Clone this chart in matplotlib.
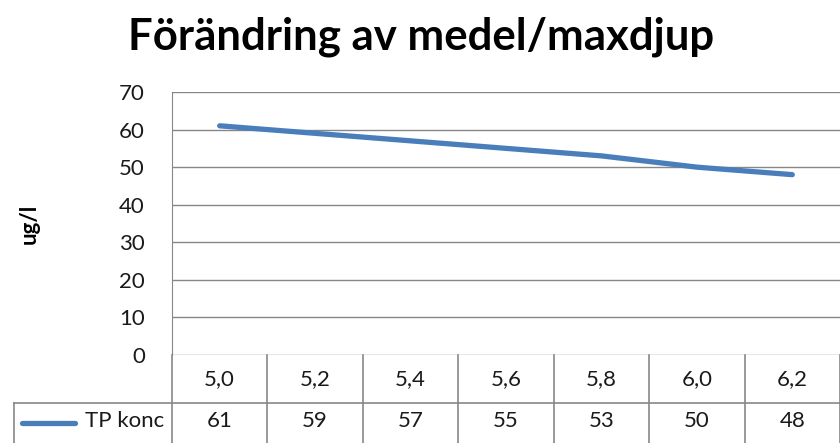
import matplotlib.pyplot as plt
from matplotlib.lines import Line2D
import matplotlib.transforms as mtransforms

plt.rcParams['font.family'] = ['Lato', 'DejaVu Sans']

# data
depth_labels = ["5,0", "5,2", "5,4", "5,6", "5,8", "6,0", "6,2"]
tp_konc = [61, 59, 57, 55, 53, 50, 48]
series_name = "TP konc"

line_color = "#4a7ebb"
grid_color = "#878787"

W, H = 840, 443
fig = plt.figure(figsize=(W / 100, H / 100), dpi=100)
ax = fig.add_axes([172 / W, (H - 355) / H, (W - 172) / W, (355 - 92) / H])

x = list(range(len(tp_konc)))
ax.plot(x, tp_konc, color=line_color, lw=3.8, solid_capstyle="round")

ax.set_xlim(-0.5, len(x) - 0.5)
ax.set_ylim(0, 70)
ax.set_yticks(range(0, 71, 10))
ax.yaxis.grid(True, color=grid_color, lw=1)
ax.set_axisbelow(True)
ax.set_xticks([])
ax.tick_params(axis="y", length=0, labelsize=16, pad=19.5, labelcolor="#1a1a1a")
for side in ["top", "right", "bottom"]:
    ax.spines[side].set_visible(False)
ax.spines["left"].set_color(grid_color)

ax.set_ylabel("ug/l", fontsize=16, fontweight="bold")
ax.yaxis.set_label_coords((40 - 172) / (W - 172), 0.5)

fig.text(421 / W, 1 - 37 / H, "Förändring av medel/maxdjup",
         ha="center", va="center", fontsize=31.5, fontweight="bold")

# data table under the plot
px_to_ax = 1 / (355 - 92)
row1_y = -(379 - 355) * px_to_ax
row2_y = -(421 - 355) * px_to_ax
bottom_y = -(460 - 355) * px_to_ax
trans = mtransforms.blended_transform_factory(ax.transData, ax.transAxes)

for k in range(len(x) + 1):
    ax.add_line(Line2D([k - 0.5, k - 0.5], [0, bottom_y], transform=trans,
                       color=grid_color, lw=1.2, clip_on=False))
for i, (lab, v) in enumerate(zip(depth_labels, tp_konc)):
    ax.text(i, row1_y, lab, transform=trans, ha="center", va="center",
            fontsize=16, color="#1a1a1a")
    ax.text(i, row2_y, str(v), transform=trans, ha="center", va="center",
            fontsize=16, color="#1a1a1a")

# row separator and legend cell
fig.add_artist(Line2D([14 / W, 1], [1 - 403 / H, 1 - 403 / H],
                      color=grid_color, lw=1.2))
fig.add_artist(Line2D([14 / W, 14 / W], [1 - 403 / H, 0],
                      color=grid_color, lw=1.2))
fig.add_artist(Line2D([22 / W, 75 / W], [1 - 423 / H, 1 - 423 / H],
                      color=line_color, lw=3.8, solid_capstyle="round"))
fig.text(164 / W, 1 - 421 / H, series_name, ha="right", va="center",
         fontsize=16, color="#1a1a1a")

fig.savefig("out.png", dpi=100)
